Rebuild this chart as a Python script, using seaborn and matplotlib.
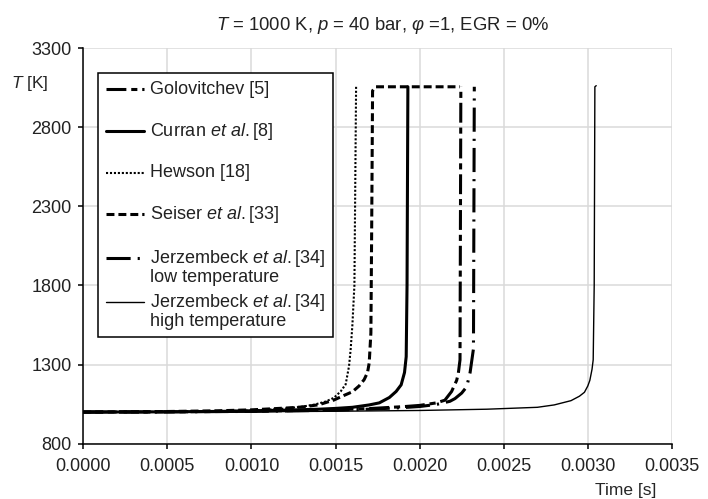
import matplotlib
matplotlib.use("Agg")
import matplotlib.pyplot as plt
import matplotlib.transforms as mtransforms
from matplotlib.ticker import MultipleLocator, FormatStrFormatter
import pandas as pd
import seaborn as sns

golovitchev_t = [0, 0.0005, 0.0010, 0.0014, 0.0017, 0.0019, 0.0020, 0.0021, 0.00215, 0.00219,
                 0.00222, 0.00223, 0.00224, 0.002245]
golovitchev_T = [1000, 1001, 1005, 1012, 1022, 1034, 1042, 1058, 1075, 1130, 1200, 1245, 1330, 3055]

curran_t = [0, 0.0004, 0.0008, 0.0012, 0.0014, 0.0015, 0.0016, 0.0017, 0.00176, 0.00182,
            0.00186, 0.00189, 0.00191, 0.00192, 0.001925, 0.00193]
curran_T = [1000, 1001, 1004, 1012, 1018, 1023, 1030, 1045, 1058, 1092, 1130, 1172, 1250, 1350, 1800, 3055]

hewson_t = [0, 0.0004, 0.0008, 0.0010, 0.0012, 0.0013, 0.00137, 0.00144, 0.00149, 0.00153,
            0.00156, 0.00158, 0.00159, 0.00160, 0.001612, 0.001622]
hewson_T = [1000, 1001, 1005, 1010, 1022, 1034, 1046, 1066, 1090, 1130, 1175, 1290, 1400, 1550, 1800, 3055]

seiser_t = [0, 0.0004, 0.0008, 0.0010, 0.0012, 0.0013, 0.0014, 0.00149, 0.00155, 0.00160,
            0.00164, 0.00167, 0.00169, 0.00170, 0.00171, 0.001715, 0.00172, 0.00174, 0.00224]
seiser_T = [1000, 1002, 1008, 1014, 1025, 1032, 1046, 1076, 1105, 1128, 1165, 1205, 1250, 1310,
            1500, 2200, 3030, 3055, 3055]

jerz_low_t = [0, 0.0005, 0.0010, 0.0014, 0.0017, 0.0019, 0.0020, 0.0021, 0.00218, 0.00221,
              0.00225, 0.00228, 0.00230, 0.00232, 0.002325]
jerz_low_T = [1000, 1001, 1004, 1010, 1018, 1028, 1035, 1048, 1068, 1085, 1120, 1160, 1250, 1400, 3055]

jerz_high_t = [0, 0.0005, 0.0010, 0.0015, 0.0020, 0.0024, 0.0027, 0.0028, 0.0029, 0.00295,
               0.00298, 0.0030, 0.003012, 0.003025, 0.003032, 0.003038, 0.003042, 0.00305]
jerz_high_T = [1000, 1000, 1002, 1005, 1010, 1018, 1030, 1045, 1072, 1100, 1125, 1165, 1200,
               1270, 1330, 1800, 3055, 3062]

y_ticks = [800, 1300, 1800, 2300, 2800, 3300]

labels = ["Golovitchev [5]\n", "Curran $et\\ al.$[8]\n", "Hewson [18]\n",
          "Seiser $et\\ al.$[33]\n", "Jerzembeck $et\\ al.$[34]\nlow temperature",
          "Jerzembeck $et\\ al.$[34]\nhigh temperature"]

series = [(golovitchev_t, golovitchev_T), (curran_t, curran_T), (hewson_t, hewson_T),
          (seiser_t, seiser_T), (jerz_low_t, jerz_low_T), (jerz_high_t, jerz_high_T)]
styles = [dict(lw=2.2, ls=(0, (6.5, 1.6, 2.0, 1.6))),
          dict(lw=2.2, ls="-"),
          dict(lw=1.5, ls=(0, (1, 0.9))),
          dict(lw=2.2, ls=(0, (2.6, 1.3))),
          dict(lw=2.2, ls=(0, (7.9, 2.3, 0.7, 2.3))),
          dict(lw=1.0, ls="-")]

sns.set_style("whitegrid")
plt.rcParams["font.family"] = ["Liberation Sans", "DejaVu Sans"]
plt.rcParams["mathtext.fontset"] = "custom"
plt.rcParams["mathtext.rm"] = "Liberation Sans"
plt.rcParams["mathtext.it"] = "Liberation Sans:italic"
plt.rcParams["text.color"] = "#222222"

fig = plt.figure(figsize=(7.08, 4.99), dpi=100)
ax = fig.add_axes([0.1177, 0.1108, 0.8313, 0.793])

for (t, T), lab, st in zip(series, labels, styles):
    df = pd.DataFrame({"t": t, "T": T})
    sns.lineplot(data=df, x="t", y="T", ax=ax, sort=False, estimator=None,
                 color="black", linewidth=st["lw"], linestyle=st["ls"], label=lab)

ax.set_xlim(0, 0.0035)
ax.set_ylim(800, 3300)
ax.xaxis.set_major_locator(MultipleLocator(0.0005))
ax.xaxis.set_major_formatter(FormatStrFormatter("%.4f"))
ax.set_yticks(y_ticks)
ax.grid(True, color="#dadada", lw=1.1)
ax.set_axisbelow(True)
for s in ["top", "right"]:
    ax.spines[s].set_visible(False)
for s in ["left", "bottom"]:
    ax.spines[s].set_color("black")
    ax.spines[s].set_linewidth(1.1)
ax.tick_params(axis="both", which="major", direction="out", length=3.6, width=1.1,
               color="black", labelsize=13, labelcolor="#222222", pad=5,
               left=True, bottom=True)
ax.tick_params(axis="x", pad=6.5)

ax.set_xlabel("Time [s]", fontsize=12.5)
ax.xaxis.set_label_coords(0.921, -0.117)
ax.xaxis.label.set_va("center")
ax.set_ylabel("$T$ [K]", fontsize=12.5, rotation=0, ha="center", va="center")
ax.yaxis.set_label_coords(-0.0905, 0.911)

ax.set_title("$T$ = 1000 K, $p$ = 40 bar, $\\varphi$ =1, EGR = 0%", fontsize=13.3,
             x=0.509, y=1.045, pad=0)

leg = ax.legend(loc="upper left", bbox_to_anchor=(0.025, 0.936), borderaxespad=0,
                fontsize=13, frameon=True, fancybox=False, edgecolor="black",
                borderpad=0.42, handlelength=2.1, handletextpad=0.38, labelspacing=0.32)
leg.get_frame().set_linewidth(1.1)
leg.get_frame().set_alpha(1)
for txt in leg.get_texts():
    txt.set_linespacing(1.0)
for h in leg.legend_handles:
    h.set_transform(h.get_transform() + mtransforms.Affine2D().translate(0, 9.0))

fig.savefig("out.png", dpi=100)
